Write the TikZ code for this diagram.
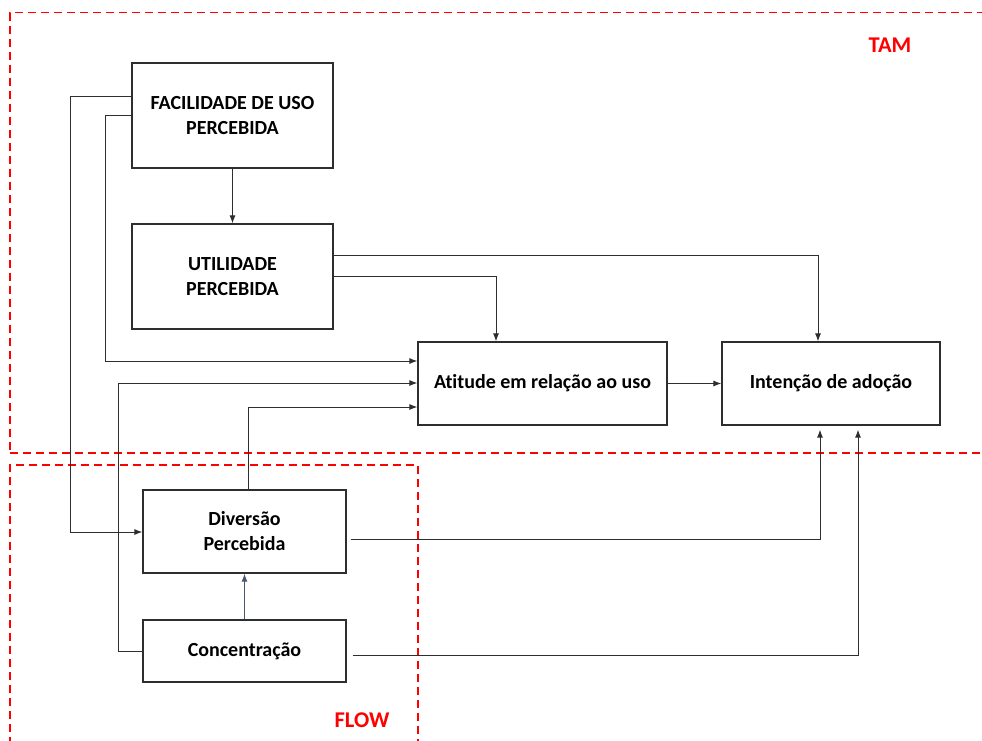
\documentclass[tikz,border=0pt]{standalone}
\usepackage{fontspec}
\setmainfont{Carlito}[Ligatures=NoCommon]
\usetikzlibrary{arrows.meta}
\definecolor{linegray}{HTML}{2E2E2E}
\definecolor{slate}{HTML}{4A5870}
\begin{document}
\begin{tikzpicture}[x=1pt,y=-1pt,
  box/.style={draw=linegray,line width=1.2pt,fill=white,inner sep=0pt,align=center,
    font=\fontsize{20}{25}\selectfont\bfseries},
  conn/.style={draw=linegray,line width=1pt,-{Latex[length=8pt,width=6pt]}},
  region/.style={draw=red,line width=1.3pt,dash pattern=on 8pt off 5pt},
  regionlabel/.style={text=red,font=\fontsize{22.5}{24}\selectfont\bfseries}]
\useasboundingbox (0,0) rectangle (982,740);
% regions
\draw[region] (985,12.5) -- (10,12.5) -- (10,453);
\draw[region] (10,453) -- (985,453);
\draw[region] (10,745) -- (10,465) -- (418,465) -- (418,745);
\node[regionlabel] (tam) at (890,45) {TAM};
\node[regionlabel] (flow) at (362,720) {FLOW};
% boxes
\node[box,minimum width=201pt,minimum height=105pt] (fac) at (232.5,115.5) {FACILIDADE DE USO\\PERCEBIDA};
\node[box,minimum width=201pt,minimum height=105pt] (ut) at (232.5,276.5) {UTILIDADE\\PERCEBIDA};
\node[box,minimum width=249pt,minimum height=83pt] (att) at (542.5,383.5) {Atitude em relação ao uso};
\node[box,minimum width=218pt,minimum height=83pt] (int) at (831,383.5) {Intenção de adoção};
\node[box,minimum width=203pt,minimum height=83pt] (div) at (244.5,531.5) {Diversão\\Percebida};
\node[box,minimum width=203pt,minimum height=62pt] (con) at (244.5,651) {Concentração};
% connectors
\draw[conn] (fac.south) -- (ut.north);
\draw[conn] (fac.west |- 0,96) -- (70,96) |- (div.west |- 0,532);
\draw[conn] (fac.west |- 0,115) -- (105,115) |- (att.west |- 0,361);
\draw[conn] (ut.east |- 0,255) -| (int.north -| 818,0);
\draw[conn] (ut.east |- 0,276) -| (att.north -| 496,0);
\draw[conn] (con.west) -- (118,651) |- (att.west |- 0,383);
\draw[conn] (div.north -| 248,0) |- (att.west |- 0,407);
\draw[conn] (att.east) -- (int.west);
\draw[conn] ([xshift=4pt]div.east |- 0,539) -| ([yshift=-4pt]int.south -| 820,0);
\draw[conn] ([xshift=6pt]con.east |- 0,655) -| ([yshift=-4pt]int.south -| 858,0);
\draw[conn,draw=slate] (con.north) -- (div.south);
\end{tikzpicture}
\end{document}
